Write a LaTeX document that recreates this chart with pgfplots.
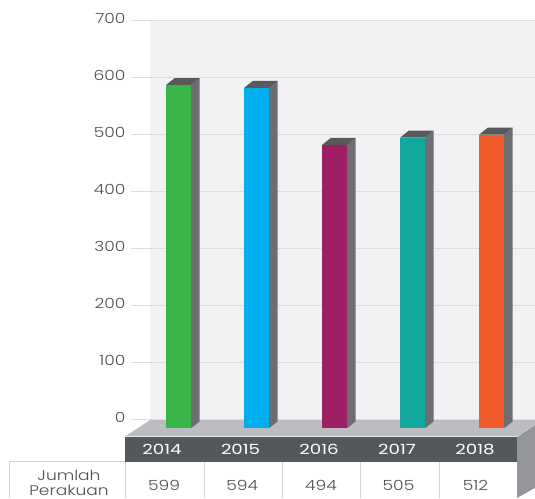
\documentclass[border=0pt]{standalone}
\usepackage{pgfplots}
\pgfplotsset{compat=1.18}
\usepackage{fontspec}
\setmainfont{Poppins Light}[FakeStretch=1.22]
\newfontfamily\yearfont{Poppins}[FakeStretch=1.3]
\definecolor{txt}{HTML}{4D4E50}
\definecolor{gridc}{HTML}{DCDDDE}
\definecolor{wall}{HTML}{F1F2F4}
\definecolor{floorc}{HTML}{BCBDC0}
\definecolor{head}{HTML}{54585A}
\definecolor{sidec}{HTML}{939598}
\definecolor{cell}{HTML}{D1D3D4}
\definecolor{barside}{HTML}{6D6E71}
\definecolor{bartop}{HTML}{58595B}
\definecolor{c14}{HTML}{39B54A}
\definecolor{c15}{HTML}{00AEEF}
\definecolor{c16}{HTML}{9E1F63}
\definecolor{c17}{HTML}{12A89D}
\definecolor{c18}{HTML}{F15A29}
% x is in picture pixels, y in chart values; bar foot sits at -15.5
\newcommand{\poly}[2]{\addplot[fill=#1,draw=none] coordinates {#2} -- cycle;}
\newcommand{\barthree}[3]{%
  \poly{barside}{(#1+25,-15.5)(#1+33.7,-3.2)(#1+33.7,#2+12.3)(#1+25,#2)}
  \poly{bartop}{(#1,#2)(#1+8.7,#2+12.3)(#1+33.7,#2+12.3)(#1+25,#2)}
  \poly{#3}{(#1,-15.5)(#1+25,-15.5)(#1+25,#2)(#1,#2)}
}
\newcommand{\cellline}[1]{\addplot[cell,line width=1pt] coordinates {#1};}
\begin{document}
\begin{tikzpicture}
\begin{axis}[
  scale only axis, width=535pt, height=498pt,
  xmin=0, xmax=535, ymin=-137.7, ymax=736,
  axis on top,
  axis line style={draw=none}, tick style={draw=none},
  ytick={0,100,...,700},
  yticklabel style={anchor=east,xshift=129pt,yshift=2.5pt,text=txt,font=\fontsize{14}{14}\selectfont},
  xtick={162,240.6,319,397,475},
  xticklabels={2014,2015,2016,2017,2018},
  xticklabel style={anchor=center,yshift=48.2pt,text=white,font=\yearfont\fontsize{14}{14}\selectfont},
  /pgf/number format/assume math mode=true,
  /pgf/number format/1000 sep={},
]
% back wall and gridlines
\poly{wall}{(150,-1)(535,-1)(535,700)(150,700)}
\addplot[gridc,line width=1pt] coordinates {(131,0)(535,0)};
\addplot[gridc,line width=1pt] coordinates {(131,100)(535,100)};
\addplot[gridc,line width=1pt] coordinates {(131,200)(535,200)};
\addplot[gridc,line width=1pt] coordinates {(131,300)(535,300)};
\addplot[gridc,line width=1pt] coordinates {(131,400)(535,400)};
\addplot[gridc,line width=1pt] coordinates {(131,500)(535,500)};
\addplot[gridc,line width=1pt] coordinates {(131,600)(535,600)};
\addplot[gridc,line width=1pt] coordinates {(131,700)(535,700)};
% floor, table header, right side
\poly{floorc}{(150,-0.9)(535,-0.9)(535,-8.6)(517,-29.8)(125,-29.8)}
\poly{sidec}{(517,-30.7)(535,-9.5)(535,-120)(517,-137.7)}
\poly{head}{(125,-30.7)(517,-30.7)(517,-74.6)(125,-74.6)}
% table cell borders
\cellline{(9,-72.8)(125,-72.8)}
\cellline{(9,-72.8)(9,-137.7)}
\cellline{(125,-74.6)(125,-137.7)}
\cellline{(204,-74.6)(204,-137.7)}
\cellline{(282,-74.6)(282,-137.7)}
\cellline{(360,-74.6)(360,-137.7)}
\cellline{(439,-74.6)(439,-137.7)}
% bars: left edge, front top as read against the axis
\barthree{166}{586.8}{c14}
\barthree{244}{581.6}{c15}
\barthree{322}{481.6}{c16}
\barthree{400}{494.4}{c17}
\barthree{479}{499.6}{c18}
% table text
\tikzset{tbl/.style={text=txt,font=\fontsize{14}{14}\selectfont,anchor=center}}
\node[tbl] at (axis cs:69,-97.5) {Jumlah};
\node[tbl] at (axis cs:69,-125) {Perakuan};
\node[tbl] at (axis cs:164,-114.9) {599};
\node[tbl] at (axis cs:242.3,-114.9) {594};
\node[tbl] at (axis cs:321,-114.9) {494};
\node[tbl] at (axis cs:398.5,-114.9) {505};
\node[tbl] at (axis cs:475.5,-114.9) {512};
\end{axis}
\end{tikzpicture}
\end{document}
